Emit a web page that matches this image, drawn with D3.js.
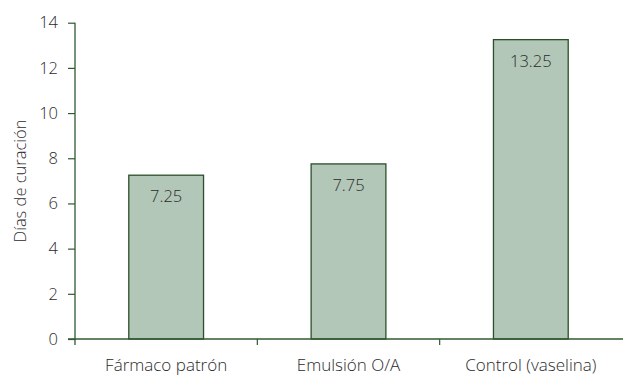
<!DOCTYPE html>
<html><head><meta charset="utf-8">
<script src="https://cdn.jsdelivr.net/npm/d3@7"></script>
<style>body{margin:0;background:#fff}svg{display:block}text{font-family:"Open Sans","Noto Sans",sans-serif;font-weight:300;fill:#2b2b2b}</style>
</head><body>
<script>
const categories = ["Fármaco patrón", "Emulsión O/A", "Control (vaselina)"];
const values = [7.25, 7.75, 13.25];
const valueLabels = ["7.25", "7.75", "13.25"];
const yTicks = [0, 2, 4, 6, 8, 10, 12, 14];
const yTitle = "Días de curación";

const W = 623, H = 376;
const axisColor = "#2f5a2f";
const svg = d3.select("body").append("svg").attr("width", W).attr("height", H);

const x = d3.scaleBand().domain(categories).range([75, 622]).paddingInner(0.59).paddingOuter(0.295);
const xb = d3.scaleBand().domain(categories).range([75, 622]);
const y = d3.scaleLinear().domain([0, 14]).range([339, 22.7]);

// bars
svg.selectAll("rect.bar").data(values).join("rect")
  .attr("x", (d, i) => x(categories[i]))
  .attr("y", d => y(d))
  .attr("width", x.bandwidth())
  .attr("height", d => y(0) - y(d))
  .attr("fill", "#b2c7b7")
  .attr("stroke", "#2b4f2b")
  .attr("stroke-width", 1.3);

svg.selectAll("text.val").data(values).join("text")
  .attr("x", (d, i) => x(categories[i]) + x.bandwidth() / 2)
  .attr("y", d => y(d) + 27)
  .attr("text-anchor", "middle")
  .attr("font-size", 16.5)
  .text((d, i) => valueLabels[i]);

// y axis
const yAxis = d3.axisLeft(y).tickValues(yTicks).tickSize(7).tickPadding(10).tickFormat(d3.format("d"));
const gy = svg.append("g").attr("transform", "translate(75,0)").call(yAxis);
gy.select(".domain").remove();
gy.selectAll(".tick line").attr("stroke", axisColor).attr("stroke-width", 1.2);
gy.selectAll(".tick text").attr("font-size", 16.5).style("font-family", '"Open Sans","Noto Sans",sans-serif').style("font-weight", 300).attr("fill", "#2b2b2b");
svg.append("line").attr("x1", 75).attr("x2", 75).attr("y1", y(14)).attr("y2", y(0) + 6)
  .attr("stroke", axisColor).attr("stroke-width", 1.3);

// x axis
svg.append("line").attr("x1", 68).attr("x2", 623).attr("y1", y(0)).attr("y2", y(0))
  .attr("stroke", axisColor).attr("stroke-width", 1.3);
svg.selectAll("line.xt").data(categories.slice(1)).join("line")
  .attr("x1", d => xb(d)).attr("x2", d => xb(d))
  .attr("y1", y(0)).attr("y2", y(0) + 6)
  .attr("stroke", axisColor).attr("stroke-width", 1.2);
svg.selectAll("text.xl").data(categories).join("text")
  .attr("x", d => xb(d) + xb.bandwidth() / 2)
  .attr("y", 371)
  .attr("text-anchor", "middle")
  .attr("font-size", 17)
  .text(d => d);

svg.append("text")
  .attr("transform", "translate(26,181) rotate(-90)")
  .attr("text-anchor", "middle")
  .attr("font-size", 16.5)
  .text(yTitle);
</script>
</body></html>
